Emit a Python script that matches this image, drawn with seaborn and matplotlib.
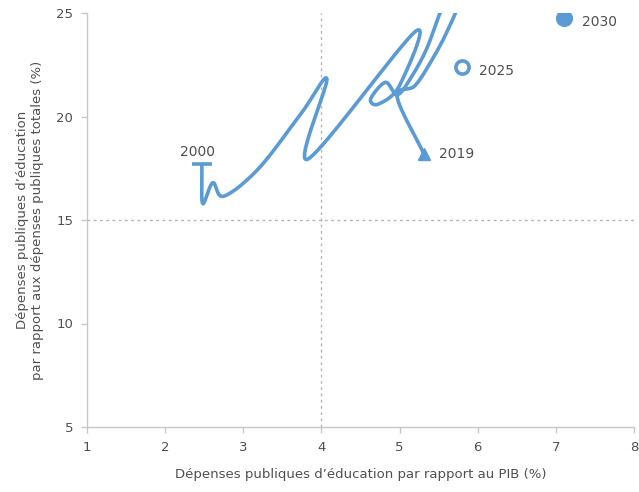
import numpy as np
import pandas as pd
import matplotlib
matplotlib.use("Agg")
import matplotlib.pyplot as plt
import seaborn as sns

# Education spending trajectory (share of GDP vs share of total public spending)
path_gdp = [2.47, 2.48, 2.61, 2.75, 3.20, 3.75, 4.07, 3.83, 5.20, 5.00, 4.73,
            4.63, 4.82, 4.97, 5.15, 5.35, 5.58, 5.74, 5.62, 5.44, 5.20, 4.97, 5.31]
path_share = [17.7, 15.8, 16.8, 16.15, 17.5, 20.2, 21.8, 17.95, 24.1, 21.5, 20.6,
              20.85, 21.65, 21.05, 21.9, 23.3, 25.5, 25.4, 24.2, 22.9, 21.5, 20.95, 18.2]

# Target points
target_years = ["2025", "2030"]
target_gdp = [5.80, 7.11]
target_share = [22.4, 24.75]

start_label, end_label = "2000", "2019"

x_ticks = [1, 2, 3, 4, 5, 6, 7, 8]
y_ticks = [5, 10, 15, 20, 25]

BLUE = "#5b9bd5"
TEXT = "#505050"


def catmull_rom(xs, ys, n=40):
    """Smooth curve through every point (uniform Catmull-Rom)."""
    p = np.column_stack([xs, ys]).astype(float)
    p = np.vstack([2 * p[0] - p[1], p, 2 * p[-1] - p[-2]])
    out = []
    t = np.linspace(0, 1, n, endpoint=False)[:, None]
    for i in range(1, len(p) - 2):
        p0, p1, p2, p3 = p[i - 1], p[i], p[i + 1], p[i + 2]
        seg = 0.5 * ((2 * p1) + (-p0 + p2) * t
                     + (2 * p0 - 5 * p1 + 4 * p2 - p3) * t ** 2
                     + (-p0 + 3 * p1 - 3 * p2 + p3) * t ** 3)
        out.append(seg)
    out.append(p[-2][None, :])
    return np.vstack(out)


sns.set_theme(style="white")
plt.rcParams["font.family"] = ["DejaVu Sans"]

fig = plt.figure(figsize=(6.39, 4.92), dpi=100)
ax = fig.add_axes([87 / 639, 1 - 427 / 492, (634 - 87) / 639, (427 - 13) / 492])

# reference lines
ax.axvline(4, color="#b5b5b5", lw=1, ls=(0, (2, 2.5)), zorder=1)
ax.axhline(15, color="#b5b5b5", lw=1, ls=(0, (2, 2.5)), zorder=1)

curve = catmull_rom(path_gdp, path_share)
df_curve = pd.DataFrame({"gdp": curve[:, 0], "share": curve[:, 1]})
sns.lineplot(data=df_curve, x="gdp", y="share", sort=False, estimator=None,
             color=BLUE, lw=2.6, ax=ax, zorder=3)

# start cap and end triangle
ax.plot(path_gdp[0], path_share[0], marker="_", ms=15, mew=2.6, color=BLUE, zorder=4)
ax.plot(path_gdp[-1], path_share[-1], marker="^", ms=9, color=BLUE, zorder=4)

# targets
df_t = pd.DataFrame({"gdp": target_gdp, "share": target_share, "year": target_years})
sns.scatterplot(data=df_t.iloc[:1], x="gdp", y="share", s=90, marker="o",
                facecolor="white", edgecolor=BLUE, linewidth=2.6, ax=ax, zorder=4)
sns.scatterplot(data=df_t.iloc[1:], x="gdp", y="share", s=130, marker="o",
                color=BLUE, edgecolor=BLUE, ax=ax, zorder=4)

lab = dict(color=TEXT, fontsize=10, va="center")
ax.text(path_gdp[0] - 0.05, path_share[0] + 0.6, start_label, ha="center", **lab)
ax.text(path_gdp[-1] + 0.2, path_share[-1], end_label, ha="left", **lab)
ax.text(target_gdp[0] + 0.22, target_share[0] - 0.2, target_years[0], ha="left", **lab)
ax.text(target_gdp[1] + 0.22, target_share[1] - 0.2, target_years[1], ha="left", **lab)

ax.set_xlim(1, 8)
ax.set_ylim(5, 25)
ax.set_xticks(x_ticks)
ax.set_yticks(y_ticks)
ax.tick_params(axis="both", which="both", length=4, width=1, color="#c8c8c8",
               labelsize=9.5, labelcolor=TEXT, direction="out", pad=6,
               bottom=True, left=True)
for s in ["top", "right"]:
    ax.spines[s].set_visible(False)
for s in ["left", "bottom"]:
    ax.spines[s].set_color("#c8c8c8")
    ax.spines[s].set_linewidth(1)

ax.set_xlabel("Dépenses publiques d’éducation par rapport au PIB (%)",
              fontsize=9.5, color=TEXT, labelpad=10)
ax.set_ylabel("Dépenses publiques d’éducation\npar rapport aux dépenses publiques totales (%)",
              fontsize=9.5, color=TEXT, labelpad=9)

fig.savefig("out.png", dpi=100)
